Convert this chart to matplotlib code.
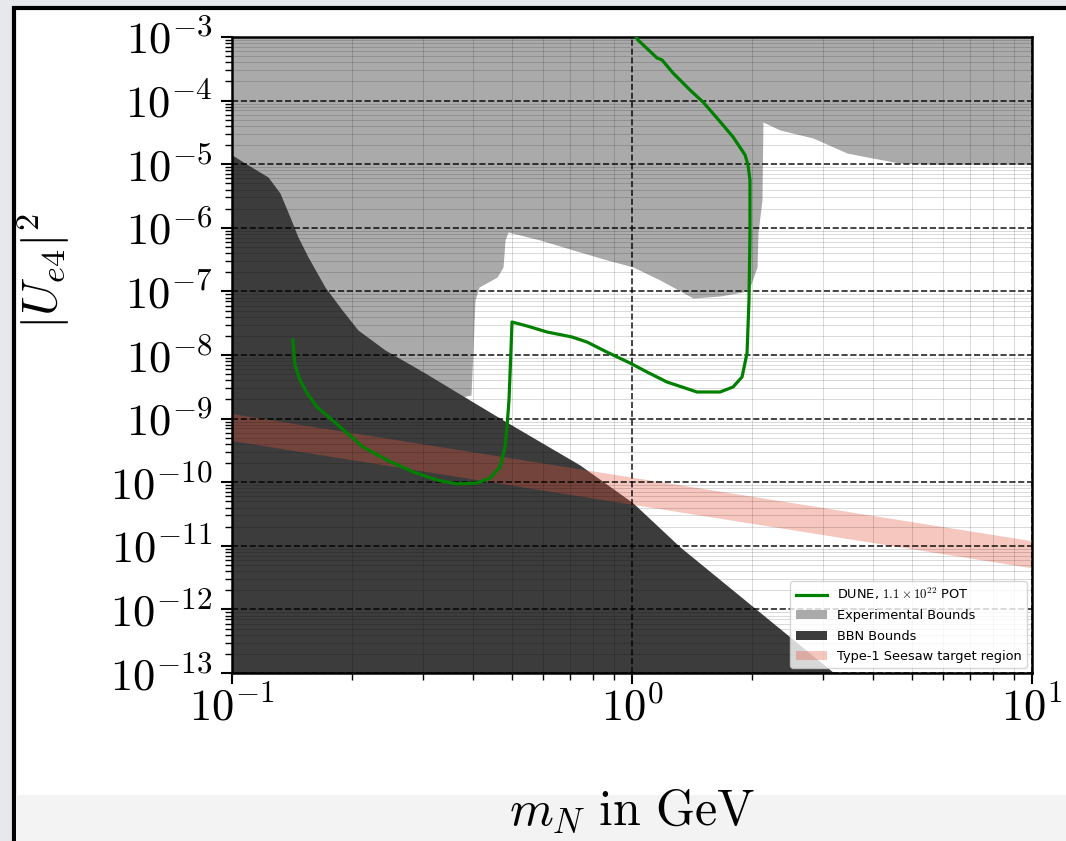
import numpy as np
import matplotlib.pyplot as plt
from matplotlib.ticker import LogLocator, FuncFormatter, NullFormatter
from matplotlib.patches import Rectangle

plt.rcParams['mathtext.fontset'] = 'cm'

# DUNE sensitivity contour
dune_m = [0.1420, 0.1437, 0.1479, 0.1540, 0.1631, 0.1758, 0.1938, 0.2126, 0.2441,
          0.2836, 0.3256, 0.3652, 0.4097, 0.4416, 0.4677, 0.4814, 0.4870, 0.4926,
          0.4983, 0.5012, 0.5464, 0.6131, 0.7079, 0.7718, 0.8660, 0.9886, 1.090,
          1.223, 1.454, 1.660, 1.789, 1.884, 1.939, 1.961, 1.972, 1.972, 1.950,
          1.917, 1.789, 1.631, 1.505, 1.396, 1.266, 1.189, 1.155, 1.035, 1.023]
dune_u = [1.72e-8, 6.97e-9, 4.05e-9, 2.53e-9, 1.52e-9, 1.02e-9, 5.94e-10, 3.57e-10,
          2.23e-10, 1.45e-10, 1.08e-10, 9.4e-11, 9.7e-11, 1.16e-10, 1.73e-10, 3.57e-10,
          7.38e-10, 1.96e-9, 1.20e-8, 3.30e-8, 2.86e-8, 2.30e-8, 1.92e-8, 1.60e-8,
          1.11e-8, 7.48e-9, 5.41e-9, 3.76e-9, 2.62e-9, 2.62e-9, 3.14e-9, 4.51e-9,
          1.07e-8, 7.33e-8, 8.28e-7, 5.65e-6, 9.70e-6, 1.40e-5, 2.68e-5, 5.32e-5,
          9.50e-5, 1.47e-4, 2.72e-4, 4.35e-4, 4.68e-4, 8.97e-4, 1.0e-3]

# lower edge of the excluded region from existing experiments
exp_m = [0.100, 0.3652, 0.3958, 0.4004, 0.4050, 0.4146, 0.4600, 0.4760, 0.4815,
         0.4898, 0.5888, 0.7120, 0.8660, 1.006, 1.175, 1.421, 1.660, 1.895, 1.972,
         2.054, 2.065, 2.113, 2.125, 2.344, 2.835, 3.447, 3.868, 4.677, 5.623, 10.0]
exp_u = [1.96e-9, 2.11e-9, 2.35e-9, 1.20e-8, 7.33e-8, 1.17e-7, 1.68e-7, 2.42e-7,
         6.43e-7, 8.59e-7, 6.43e-7, 4.48e-7, 3.12e-7, 2.42e-7, 1.51e-7, 7.87e-8,
         8.47e-8, 9.79e-8, 1.17e-7, 2.42e-7, 8.28e-7, 2.74e-6, 4.61e-5, 3.45e-5,
         2.58e-5, 1.50e-5, 1.30e-5, 1.04e-5, 1.0e-5, 1.0e-5]

# upper edge of the BBN excluded region
bbn_m = [0.100, 0.1078, 0.1230, 0.1318, 0.1396, 0.1462, 0.1549, 0.1708, 0.1884,
         0.2065, 0.2413, 0.3038, 0.3673, 0.4760, 0.7413, 1.006, 1.318, 2.054, 3.199]
bbn_u = [1.40e-5, 1.04e-5, 6.30e-6, 3.52e-6, 1.48e-6, 7.16e-7, 3.48e-7, 1.17e-7,
         5.11e-8, 2.47e-8, 1.20e-8, 5.21e-9, 2.53e-9, 9.5e-10, 1.86e-10, 4.71e-11,
         9.6e-12, 9.8e-13, 1.0e-13]

# seesaw band |U|^2 ~ m_nu / m_N
seesaw_m = [0.1, 10.0]
seesaw_lo = [4.5e-10, 4.5e-12]
seesaw_hi = [1.2e-9, 1.2e-11]

W, H = 1066, 841
fig = plt.figure(figsize=(W / 100, H / 100), dpi=100, facecolor='#e6e8ec')
fig.add_artist(Rectangle((14 / W, -0.1), 1.2, (H - 8) / H + 0.1, transform=fig.transFigure,
                         facecolor='white', edgecolor='black', lw=3, zorder=-2))
fig.add_artist(Rectangle((16 / W, 0), 1, 46 / H, transform=fig.transFigure,
                         facecolor='#f3f3f3', edgecolor='none', zorder=-1))

ax = fig.add_axes([232 / W, 1 - 673 / H, 800 / W, 636 / H])
ax.set_xscale('log')
ax.set_yscale('log')

exp = ax.fill_between(exp_m, exp_u, 1e-3, color='#aaaaaa', lw=0, zorder=1,
                      label='Experimental Bounds')
bbn = ax.fill_between(bbn_m, bbn_u, 1e-13, color='#3c3c3c', lw=0, zorder=1.1,
                      label='BBN Bounds')
see = ax.fill_between(seesaw_m, seesaw_lo, seesaw_hi, color='#e4553f', alpha=0.33,
                      lw=0, zorder=1.2, label='Type-1 Seesaw target region')
dune, = ax.plot(dune_m, dune_u, color='green', lw=2.3, zorder=3,
                label=r'DUNE, $1.1\times10^{22}$ POT')

ax.set_xlim(0.1, 10)
ax.set_ylim(1e-13, 1e-3)

for axis in (ax.xaxis, ax.yaxis):
    axis.set_major_locator(LogLocator(base=10, numticks=20))
    axis.set_minor_locator(LogLocator(base=10, subs=np.arange(2, 10) * 1.0, numticks=100))
    axis.set_major_formatter(FuncFormatter(lambda v, _: r'$10^{%d}$' % round(np.log10(v))))
    axis.set_minor_formatter(NullFormatter())

ax.set_axisbelow(False)
ax.grid(True, which='major', ls='--', color='k', lw=1.2, alpha=0.85)
ax.grid(True, which='minor', ls='-', color='k', lw=0.7, alpha=0.15)

ax.tick_params(which='major', direction='out', length=8, width=1.5, labelsize=32)
ax.tick_params(axis='y', which='major', pad=6)
ax.tick_params(axis='x', which='major', pad=2)
ax.tick_params(which='minor', direction='out', length=5, width=1)
for s in ax.spines.values():
    s.set_linewidth(1.8)

ax.set_xlabel(r'$m_N\ \mathrm{in\ GeV}$', fontsize=36)
ax.xaxis.set_label_coords(0.5, -0.18)
ax.set_ylabel(r'$|U_{e4}|^2$', fontsize=35)
ax.yaxis.set_label_coords(-0.2, 0.632)

ax.legend(handles=[dune, exp, bbn, see], loc='lower right', fontsize=9.3,
          handlelength=2.4, borderaxespad=0.4, labelspacing=0.55)

fig.savefig('out.png', dpi=100, facecolor=fig.get_facecolor())
